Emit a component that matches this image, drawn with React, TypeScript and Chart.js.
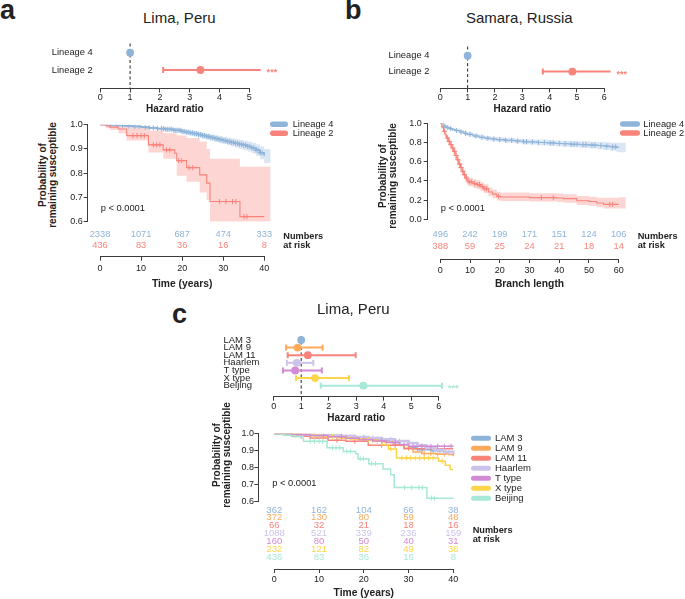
import React, { useEffect, useRef } from 'react';
import { Chart, registerables } from 'chart.js';

Chart.register(...registerables);

const FONT = '"Liberation Sans", Arial, Helvetica, sans-serif';
Chart.defaults.font.family = FONT;
Chart.defaults.color = '#222';

const INK = '#222222';
const AXIS = '#3c3c3c';

// ---------------- colours
const C_L4 = '#8FB4DA';
const C_L2 = '#F8837A';
const C_LAM3 = '#8FB4DA';
const C_LAM9 = '#FDAA5C';
const C_LAM11 = '#F8837A';
const C_HAAR = '#CDC3EA';
const C_TTYPE = '#D38AD5';
const C_XTYPE = '#FCD54A';
const C_BEIJ = '#A8E8D6';

// ---------------- Panel a : hazard ratios (Lima, Peru)
const hrA_labels = ['Lineage 4', 'Lineage 2'];
const hrA_est = [1, 3.36];
const hrA_low: (number | null)[] = [null, 2.11];
const hrA_high: (number | null)[] = [null, 5.38];
const hrA_sig = ['', '***'];

// ---------------- Panel a : Kaplan-Meier
const kmA_L4_t = [0, 2, 4, 6, 8, 10, 12, 14, 16, 18, 20, 21, 22, 23, 24, 25, 26, 27, 28, 29, 30, 31, 32, 33, 34, 35, 36, 37, 38, 39, 40];
const kmA_L4_s = [1.0, 0.998, 0.997, 0.995, 0.993, 0.99, 0.987, 0.984, 0.981, 0.977, 0.972, 0.969, 0.966, 0.963, 0.959, 0.955, 0.951, 0.947, 0.943, 0.939, 0.935, 0.931, 0.927, 0.923, 0.919, 0.915, 0.91, 0.904, 0.895, 0.884, 0.872];
const kmA_L4_bandT = [0, 2, 4, 6, 8, 10, 12, 14, 16, 18, 20, 21, 22, 23, 24, 25, 26, 27, 28, 29, 30, 31, 32, 33, 34, 35, 36, 37, 38, 39, 40, 41.6];
const kmA_L4_lo = [1.0, 0.996, 0.994, 0.991, 0.988, 0.985, 0.981, 0.977, 0.973, 0.968, 0.962, 0.958, 0.955, 0.951, 0.947, 0.942, 0.938, 0.933, 0.929, 0.924, 0.92, 0.915, 0.91, 0.905, 0.9, 0.895, 0.889, 0.882, 0.872, 0.858, 0.842, 0.842];
const kmA_L4_hi = [1.0, 0.999, 0.999, 0.998, 0.997, 0.995, 0.992, 0.99, 0.988, 0.985, 0.981, 0.979, 0.976, 0.974, 0.97, 0.967, 0.963, 0.96, 0.956, 0.953, 0.949, 0.946, 0.943, 0.94, 0.937, 0.934, 0.93, 0.925, 0.918, 0.91, 0.9, 0.9];
const kmA_L4_cens = [2.5, 4, 5.5, 7, 8.5, 9.5, 11, 12, 13, 14, 15, 15.5, 16, 16.5, 17, 17.5, 18, 18.5, 19, 19.5, 20, 20.5, 21, 21.5, 22, 22.5, 23, 23.5, 24, 24.5, 25, 25.5, 26, 26.5, 27, 27.5, 28, 28.5, 29, 29.5, 30, 30.5, 31, 31.5, 32, 32.5, 33, 33.5, 34, 34.5, 35, 35.5, 36, 36.5, 37, 37.5, 38, 38.5, 39, 39.5];

const kmA_L2_t = [0, 1.5, 2.4, 4.5, 6.5, 11.8, 15.4, 18.2, 18.7, 21.1, 24.3, 26.0, 26.8, 34.1, 40];
const kmA_L2_s = [1.0, 0.995, 0.99, 0.982, 0.955, 0.917, 0.896, 0.882, 0.852, 0.823, 0.793, 0.759, 0.683, 0.621, 0.621];
const kmA_L2_bandT = [0, 1.5, 2.4, 4.5, 6.5, 11.8, 15.4, 18.7, 21.1, 24.3, 26.0, 26.8, 34.1, 41.6];
const kmA_L2_lo = [1.0, 0.985, 0.978, 0.965, 0.935, 0.885, 0.86, 0.79, 0.765, 0.72, 0.69, 0.6, 0.6, 0.6];
const kmA_L2_hi = [1.0, 1.0, 1.0, 1.0, 0.995, 0.975, 0.965, 0.955, 0.945, 0.93, 0.9, 0.86, 0.827, 0.827];
const kmA_L2_cens = [8, 9, 10, 10.8, 13, 13.8, 14.6, 16.2, 17, 19.2, 19.9, 21.7, 22.6, 29.1, 30.7, 32.3, 33.1, 35.1, 35.8];

// ---------------- Panel a : numbers at risk
const riskA_times = [0, 10, 20, 30, 40];
const riskA_L4 = [2338, 1071, 687, 474, 333];
const riskA_L2 = [436, 83, 36, 16, 8];

// ---------------- Panel b : hazard ratios (Samara, Russia)
const hrB_labels = ['Lineage 4', 'Lineage 2'];
const hrB_est = [1, 4.83];
const hrB_low: (number | null)[] = [null, 3.75];
const hrB_high: (number | null)[] = [null, 6.23];
const hrB_sig = ['', '***'];

// ---------------- Panel b : Kaplan-Meier (branch length)
const kmB_L4_t = [0, 1, 2, 3, 4, 5, 6.6, 8, 9, 11, 13, 15, 17, 19, 22, 25, 28, 30, 33, 36, 39, 41, 44, 47, 50, 53, 55, 57, 59.3, 60];
const kmB_L4_s = [1.0, 0.97, 0.955, 0.945, 0.935, 0.925, 0.91, 0.895, 0.885, 0.868, 0.855, 0.845, 0.837, 0.83, 0.822, 0.815, 0.808, 0.805, 0.8, 0.795, 0.79, 0.787, 0.782, 0.778, 0.773, 0.768, 0.762, 0.755, 0.748, 0.748];
const kmB_L4_bandT = [0, 1, 2, 3, 4, 5, 6.6, 8, 9, 11, 13, 15, 17, 19, 22, 25, 28, 30, 33, 36, 39, 41, 44, 47, 50, 53, 55, 57, 59.3, 60, 62.4];
const kmB_L4_lo = [1.0, 0.958, 0.94, 0.929, 0.918, 0.907, 0.891, 0.875, 0.864, 0.846, 0.832, 0.822, 0.813, 0.806, 0.797, 0.79, 0.782, 0.778, 0.772, 0.766, 0.76, 0.756, 0.75, 0.744, 0.737, 0.73, 0.722, 0.713, 0.702, 0.698, 0.698];
const kmB_L4_hi = [1.0, 0.982, 0.97, 0.961, 0.952, 0.943, 0.929, 0.915, 0.906, 0.89, 0.878, 0.868, 0.861, 0.854, 0.847, 0.84, 0.834, 0.832, 0.828, 0.824, 0.82, 0.818, 0.814, 0.812, 0.809, 0.806, 0.802, 0.797, 0.794, 0.798, 0.798];
const kmB_L4_cens = [1.5, 2.5, 3.5, 5.5, 7, 8.5, 10, 12, 14, 16, 18, 20, 22, 24, 26, 28, 29, 31, 33, 35, 37, 38, 40, 42, 44, 45, 46, 48, 49, 51, 52, 54, 56, 58, 59];

const kmB_L2_t = [0, 0.5, 1.1, 1.6, 2.1, 2.7, 3.3, 3.9, 4.4, 5.0, 5.6, 6.2, 6.8, 7.3, 7.9, 8.4, 9.0, 9.5, 11, 12.3, 13.5, 14.6, 16.2, 17.5, 19, 20.2, 30, 39.2, 41.4, 45.9, 50, 52.6, 54.9, 60];
const kmB_L2_s = [1.0, 0.96, 0.917, 0.88, 0.847, 0.81, 0.778, 0.742, 0.708, 0.665, 0.62, 0.575, 0.54, 0.5, 0.465, 0.43, 0.405, 0.389, 0.372, 0.361, 0.34, 0.319, 0.284, 0.262, 0.24, 0.232, 0.226, 0.222, 0.215, 0.194, 0.185, 0.17, 0.155, 0.155];
const kmB_L2_bandT = [0, 0.5, 1.1, 1.6, 2.1, 2.7, 3.3, 3.9, 4.4, 5.0, 5.6, 6.2, 6.8, 7.3, 7.9, 8.4, 9.0, 9.5, 11, 12.3, 13.5, 14.6, 16.2, 17.5, 19, 20.2, 30, 39.2, 41.4, 45.9, 50, 52.6, 54.9, 60, 62.4];
const kmB_L2_lo = [1.0, 0.94, 0.89, 0.85, 0.812, 0.772, 0.738, 0.7, 0.664, 0.62, 0.575, 0.53, 0.494, 0.455, 0.42, 0.386, 0.36, 0.344, 0.327, 0.316, 0.295, 0.275, 0.24, 0.218, 0.197, 0.19, 0.186, 0.18, 0.172, 0.15, 0.14, 0.125, 0.113, 0.113, 0.113];
const kmB_L2_hi = [1.0, 0.978, 0.943, 0.91, 0.88, 0.847, 0.818, 0.784, 0.752, 0.71, 0.665, 0.62, 0.586, 0.545, 0.51, 0.474, 0.45, 0.434, 0.417, 0.406, 0.385, 0.365, 0.33, 0.308, 0.286, 0.278, 0.272, 0.27, 0.262, 0.242, 0.235, 0.225, 0.225, 0.23, 0.23];
const kmB_L2_cens = [1.4, 2.4, 3.0, 3.6, 4.2, 4.8, 5.3, 5.9, 6.5, 7.0, 7.6, 8.1, 8.8, 9.7, 10.4, 11.6, 12.6, 13.2, 14.1, 15.0, 15.6, 19.6, 34, 38, 57, 58];

const riskB_times = [0, 10, 20, 30, 40, 50, 60];
const riskB_L4 = [496, 242, 199, 171, 151, 124, 106];
const riskB_L2 = [388, 59, 25, 24, 21, 18, 14];

// ---------------- Panel c : hazard ratios by sublineage (Lima, Peru)
const hrC_labels = ['LAM 3', 'LAM 9', 'LAM 11', 'Haarlem', 'T type', 'X type', 'Beijing'];
const hrC_est = [1, 0.87, 1.24, 0.84, 0.78, 1.5, 3.26];
const hrC_low: (number | null)[] = [null, 0.45, 0.51, 0.48, 0.34, 0.81, 1.71];
const hrC_high: (number | null)[] = [null, 1.78, 2.98, 1.44, 1.75, 2.74, 6.12];
const hrC_sig = ['', '', '', '', '', '', '***'];
const hrC_colors = [C_LAM3, C_LAM9, C_LAM11, C_HAAR, C_TTYPE, C_XTYPE, C_BEIJ];

// ---------------- Panel c : Kaplan-Meier by sublineage
const kmC_LAM3_t = [0, 3, 6, 9, 12, 15, 18, 21, 24, 26, 28, 30, 32, 35, 38, 40];
const kmC_LAM3_s = [1.0, 0.998, 0.995, 0.99, 0.985, 0.98, 0.975, 0.968, 0.958, 0.948, 0.935, 0.918, 0.905, 0.9, 0.893, 0.885];
const kmC_LAM3_cens = [5, 9, 13, 17, 20, 23, 26.5, 29, 31.5, 33, 35.5, 37];
const kmC_LAM9_t = [0, 3, 6, 9, 12, 15, 18, 21, 24, 27, 29, 31, 33, 36, 39, 40];
const kmC_LAM9_s = [1.0, 0.997, 0.993, 0.988, 0.982, 0.976, 0.97, 0.963, 0.952, 0.935, 0.915, 0.893, 0.883, 0.88, 0.878, 0.868];
const kmC_LAM9_cens = [4, 8, 12, 16, 19, 22, 25, 30, 33.5, 35, 36.5, 38];
const kmC_LAM11_t = [0, 4, 8, 12, 16, 21, 29, 40];
const kmC_LAM11_s = [1.0, 0.985, 0.975, 0.962, 0.955, 0.932, 0.912, 0.912];
const kmC_LAM11_cens = [6, 14, 18, 24, 27, 32];
const kmC_HAAR_t = [0, 3, 6, 9, 12, 15, 18, 21, 24, 27, 30, 32, 34, 36, 38, 40];
const kmC_HAAR_s = [1.0, 0.998, 0.996, 0.993, 0.99, 0.986, 0.981, 0.975, 0.967, 0.957, 0.945, 0.932, 0.918, 0.905, 0.893, 0.882];
const kmC_HAAR_cens = [2, 4, 6, 8, 10, 12, 14, 16, 18, 20, 22, 24, 26, 28, 30, 32, 34, 36, 38, 39];
const kmC_TTYPE_t = [0, 4, 8, 12, 16, 19, 22, 25, 28, 30, 40];
const kmC_TTYPE_s = [1.0, 0.996, 0.99, 0.982, 0.973, 0.965, 0.957, 0.948, 0.937, 0.926, 0.926];
const kmC_TTYPE_cens = [7, 11, 15, 20, 24, 27, 31, 33, 35, 36.5, 38, 39.5];
const kmC_XTYPE_t = [0, 4, 8, 11, 14, 17, 20, 22, 24, 25.5, 27.3, 36.7, 38.2, 39.3, 40];
const kmC_XTYPE_s = [1.0, 0.997, 0.99, 0.983, 0.976, 0.969, 0.962, 0.955, 0.935, 0.91, 0.857, 0.838, 0.815, 0.79, 0.79];
const kmC_XTYPE_cens = [5, 9, 13, 16, 19, 21, 23, 26, 28.5, 29.5, 30.5, 31.5, 32.5, 33.5, 34.5, 35.5, 37.5];
const kmC_BEIJ_t = kmA_L2_t;
const kmC_BEIJ_s = kmA_L2_s;
const kmC_BEIJ_cens = kmA_L2_cens;

const riskC_times = [0, 10, 20, 30, 40];
const riskC_LAM3 = [362, 162, 104, 66, 38];
const riskC_LAM9 = [372, 130, 80, 59, 48];
const riskC_LAM11 = [66, 32, 21, 18, 16];
const riskC_HAAR = [1088, 521, 339, 236, 159];
const riskC_TTYPE = [160, 80, 50, 40, 31];
const riskC_XTYPE = [232, 121, 82, 49, 36];
const riskC_BEIJ = [436, 83, 36, 16, 8];

// =====================================================================
function hexAlpha(hex: string, a: number) {
  const n = parseInt(hex.slice(1), 16);
  return `rgba(${(n >> 16) & 255},${(n >> 8) & 255},${n & 255},${a})`;
}
function stepAt(t: number[], s: number[], x: number) {
  let v = s[0];
  for (let i = 0; i < t.length; i++) if (t[i] <= x) v = s[i];
  return v;
}
const font = (size: number, bold = false) => `${bold ? 'bold ' : ''}${size}px ${FONT}`;

const baseOptions = {
  animation: false,
  responsive: false,
  devicePixelRatio: 1,
  events: [] as any[],
};

// ---------------- forest plot config
function forestConfig(o: any) {
  const datasets: any[] = [];
  // lower "order" is drawn on top
  datasets.push({
    type: 'scatter', order: 3, showLine: true,
    data: [{ x: 1, y: o.yMin }, { x: 1, y: o.yMax }],
    borderColor: INK, borderWidth: 1, borderDash: [3, 2.5], pointRadius: 0, clip: false,
  });
  o.labels.forEach((_: string, i: number) => {
    if (o.low[i] != null) {
      datasets.push({
        type: 'scatter', order: 2, showLine: true,
        data: [{ x: o.low[i], y: i }, { x: o.high[i], y: i }],
        borderColor: o.colors[i], borderWidth: 2,
        pointStyle: 'line', rotation: 90, pointRadius: 3, pointBorderWidth: 2,
        pointBorderColor: o.colors[i], pointBackgroundColor: o.colors[i], clip: false,
      });
    }
  });
  datasets.push({
    type: 'scatter', order: 1,
    data: o.est.map((v: number, i: number) => ({ x: v, y: i })),
    pointRadius: 3.9, pointBackgroundColor: o.colors, pointBorderColor: o.colors, pointBorderWidth: 0, clip: false,
  });
  const starPlugin = {
    id: 'stars',
    afterDatasetsDraw(chart: any) {
      const { ctx } = chart;
      const xs = chart.scales.x, ys = chart.scales.y;
      ctx.save();
      ctx.font = font(9, true);
      ctx.textAlign = 'left';
      ctx.textBaseline = 'middle';
      o.sig.forEach((s: string, i: number) => {
        if (!s) return;
        ctx.fillStyle = o.colors[i];
        ctx.fillText(s, xs.getPixelForValue(o.high[i]) + 6, ys.getPixelForValue(i) + 2.5);
      });
      ctx.restore();
    },
  };
  return {
    type: 'scatter',
    data: { datasets },
    options: {
      ...baseOptions,
      layout: { padding: o.padding },
      plugins: { legend: { display: false }, tooltip: { enabled: false } },
      scales: {
        x: {
          type: 'linear', min: 0, max: o.xMax,
          ticks: { stepSize: 1, font: { size: 9 }, padding: o.tickPad, color: INK },
          grid: { display: true, drawOnChartArea: false, drawTicks: true, tickLength: 4, color: AXIS },
          border: { display: true, color: AXIS, width: 1 },
          title: { display: true, text: 'Hazard ratio', font: { size: 10, weight: 'bold' }, padding: { top: 0, bottom: o.titlePadBottom }, color: INK },
          afterFit: (s: any) => { s.height = o.xHeight; },
        },
        y: {
          type: 'linear', reverse: true, min: o.yMin, max: o.yMax,
          afterBuildTicks: (s: any) => { s.ticks = o.labels.map((_: string, i: number) => ({ value: i })); },
          ticks: {
            autoSkip: false, font: { size: o.labelSize }, padding: o.labelPad, crossAlign: o.crossAlign, color: INK,
            callback: (v: number) => o.labels[Math.round(v)] ?? '',
          },
          grid: { display: false, drawTicks: false, tickLength: 0 },
          border: { display: false },
          afterFit: (s: any) => { s.width = o.yWidth; },
        },
      },
    },
    plugins: [starPlugin],
  };
}

// ---------------- Kaplan-Meier config
function kmConfig(o: any) {
  const datasets: any[] = [];
  o.series.forEach((se: any) => {
    if (!se.band) return;
    datasets.push({
      type: 'line', order: 100, data: se.band.t.map((t: number, i: number) => ({ x: t, y: se.band.lo[i] })),
      stepped: true, borderWidth: 0, borderColor: 'rgba(0,0,0,0)', pointRadius: 0, fill: false,
    });
    datasets.push({
      type: 'line', order: 100, data: se.band.t.map((t: number, i: number) => ({ x: t, y: se.band.hi[i] })),
      stepped: true, borderWidth: 0, borderColor: 'rgba(0,0,0,0)', pointRadius: 0, fill: '-1',
      backgroundColor: hexAlpha(se.color, 0.33),
    });
  });
  o.series.forEach((se: any, k: number) => {
    datasets.push({
      type: 'line', order: 50 - 2 * k, data: se.t.map((t: number, i: number) => ({ x: t, y: se.s[i] })),
      stepped: true, borderColor: se.color, borderWidth: se.width, pointRadius: 0, fill: false,
    });
    datasets.push({
      type: 'scatter', order: 49 - 2 * k, data: se.cens.map((c: number) => ({ x: c, y: stepAt(se.t, se.s, c) })),
      pointStyle: 'cross', pointRadius: 2.6, pointBorderWidth: 1, pointBorderColor: se.color, borderColor: se.color,
    });
  });
  const deco = {
    id: 'kmDeco',
    afterDraw(chart: any) {
      const { ctx } = chart;
      ctx.save();
      const L = o.legend;
      L.labels.forEach((lab: string, i: number) => {
        const y = L.y0 + i * L.dy;
        ctx.fillStyle = L.colors[i];
        ctx.beginPath();
        ctx.roundRect(L.x, y - L.h / 2, L.w, L.h, L.h / 2);
        ctx.fill();
        ctx.fillStyle = INK;
        ctx.font = font(L.size);
        ctx.textAlign = 'left';
        ctx.textBaseline = 'middle';
        ctx.fillText(lab, L.textX, y + 0.5);
      });
      ctx.fillStyle = INK;
      ctx.font = font(9.3);
      ctx.textAlign = 'left';
      ctx.textBaseline = 'middle';
      ctx.fillText('p < 0.0001', o.pval.x, o.pval.y);
      ctx.restore();
    },
  };
  return {
    type: 'line',
    data: { datasets },
    options: {
      ...baseOptions,
      layout: { padding: o.padding },
      plugins: { legend: { display: false }, tooltip: { enabled: false } },
      scales: {
        x: { type: 'linear', display: false, min: o.xMin, max: o.xMax },
        y: {
          type: 'linear', min: o.yMin, max: o.yMax,
          ticks: { stepSize: o.yStep, font: { size: 9 }, padding: o.tickPad, color: INK, callback: (v: number) => Number(v).toFixed(1) },
          grid: { display: true, drawOnChartArea: false, drawTicks: true, tickLength: 4, color: AXIS },
          border: { display: true, color: AXIS, width: 1 },
          afterFit: (s: any) => { s.width = o.yWidth; },
        },
      },
    },
    plugins: [deco],
  };
}

// ---------------- numbers-at-risk table + time axis
function riskConfig(o: any) {
  const datasets = o.rows.map((r: any, i: number) => ({
    type: 'scatter', data: o.times.map((t: number) => ({ x: t, y: i })), pointRadius: 0,
  }));
  const labels = {
    id: 'riskLabels',
    afterDatasetsDraw(chart: any) {
      const { ctx } = chart;
      ctx.save();
      ctx.textAlign = 'center';
      ctx.textBaseline = 'middle';
      ctx.font = font(o.size);
      o.rows.forEach((r: any, i: number) => {
        const meta = chart.getDatasetMeta(i);
        ctx.fillStyle = r.color;
        meta.data.forEach((pt: any, j: number) => ctx.fillText(String(r.values[j]), pt.x, pt.y));
      });
      ctx.fillStyle = INK;
      ctx.font = font(9.2, true);
      ctx.textAlign = 'left';
      ctx.fillText('Numbers', o.nar.x, o.nar.y1);
      ctx.fillText('at risk', o.nar.x, o.nar.y2);
      ctx.restore();
    },
  };
  return {
    type: 'scatter',
    data: { datasets },
    options: {
      ...baseOptions,
      layout: { padding: o.padding },
      plugins: { legend: { display: false }, tooltip: { enabled: false } },
      scales: {
        x: {
          type: 'linear', min: 0, max: o.xMax,
          ticks: { stepSize: o.xStep, font: { size: 9 }, padding: o.tickPad, color: INK },
          grid: { display: true, drawOnChartArea: false, drawTicks: true, tickLength: 4, color: AXIS },
          border: { display: true, color: AXIS, width: 1 },
          title: { display: true, text: o.title, font: { size: 10.3, weight: 'bold' }, padding: { top: 0, bottom: o.titlePadBottom }, color: INK },
          afterFit: (s: any) => { s.height = o.xHeight; },
        },
        y: { type: 'linear', display: false, reverse: true, min: o.yMin, max: o.yMax },
      },
    },
    plugins: [labels],
  };
}

// =====================================================================
function ChartBox({ left, top, width, height, make }: any) {
  const ref = useRef<HTMLCanvasElement>(null);
  useEffect(() => {
    const chart = new Chart(ref.current as HTMLCanvasElement, make() as any);
    return () => chart.destroy();
  }, []);
  return (
    <canvas ref={ref} width={width} height={height}
      style={{ position: 'absolute', left, top, width, height }} />
  );
}

function Txt({ x, y, size, bold, center, children }: any) {
  const style: any = {
    position: 'absolute', top: y - 0.8465 * size, left: x,
    fontFamily: FONT, fontSize: size, lineHeight: `${size}px`,
    fontWeight: bold ? 700 : 400, color: INK, whiteSpace: 'nowrap',
  };
  if (center) style.transform = 'translateX(-50%)';
  return <div style={style}>{children}</div>;
}

function YTitle({ cx, cy }: any) {
  return (
    <div style={{
      position: 'absolute', left: cx, top: cy, transform: 'translate(-50%,-50%) rotate(-90deg)',
      fontFamily: FONT, fontSize: 10, fontWeight: 700, lineHeight: '10px', textAlign: 'center',
      whiteSpace: 'nowrap', color: INK,
    }}>
      Probability of<br />remaining susceptible
    </div>
  );
}

export default function App() {
  return (
    <div style={{ position: 'absolute', left: 0, top: 0, width: 685, height: 599, background: '#fff', overflow: 'hidden' }}>
      {/* ---------- panel a */}
      <Txt x={0} y={20} size={27} bold>a</Txt>
      <Txt x={179.3} y={22.4} size={15} center>Lima, Peru</Txt>
      <ChartBox left={0} top={30} width={300} height={86} make={() => forestConfig({
        labels: hrA_labels, est: hrA_est, low: hrA_low, high: hrA_high, sig: hrA_sig, colors: [C_L4, C_L2],
        xMax: 5, yMin: -0.53, yMax: 2.07, yWidth: 100, xHeight: 27.5,
        padding: { left: 0.3, right: 50.7, top: 13.5, bottom: 0 },
        labelPad: 7.6, crossAlign: 'near', labelSize: 9.3, tickPad: 0, titlePadBottom: 0.5,
      })} />
      <YTitle cx={48} cy={175} />
      <ChartBox left={0} top={110} width={340} height={120} make={() => kmConfig({
        series: [
          { t: kmA_L4_t, s: kmA_L4_s, color: C_L4, width: 1.6, cens: kmA_L4_cens, band: { t: kmA_L4_bandT, lo: kmA_L4_lo, hi: kmA_L4_hi } },
          { t: kmA_L2_t, s: kmA_L2_s, color: C_L2, width: 1.1, cens: kmA_L2_cens, band: { t: kmA_L2_bandT, lo: kmA_L2_lo, hi: kmA_L2_hi } },
        ],
        xMin: -3, xMax: 41.6, yMin: 0.6, yMax: 1.0, yStep: 0.1, yWidth: 87.7, tickPad: 1,
        padding: { left: 0, right: 69.3, top: 14.7, bottom: 8.3 },
        legend: { labels: ['Lineage 4', 'Lineage 2'], colors: [C_L4, C_L2], x: 270, w: 18, h: 5.5, y0: 14.3, dy: 9, textX: 292.7, size: 9.3 },
        pval: { x: 100.7, y: 98.8 },
      })} />
      <ChartBox left={0} top={226} width={340} height={70} make={() => riskConfig({
        rows: [{ values: riskA_L4, color: C_L4 }, { values: riskA_L2, color: C_L2 }],
        times: riskA_times, xMax: 40, xStep: 10, yMin: -0.53, yMax: 1.99, size: 9.3,
        padding: { left: 100, right: 75.7, top: 2, bottom: 0 }, xHeight: 39.3, tickPad: 2.2,
        title: 'Time (years)', titlePadBottom: 5.8, nar: { x: 283.3, y1: 10, y2: 19 },
      })} />

      {/* ---------- panel b */}
      <Txt x={345} y={20} size={27} bold>b</Txt>
      <Txt x={519.3} y={22.4} size={15} center>Samara, Russia</Txt>
      <ChartBox left={340} top={30} width={345} height={86} make={() => forestConfig({
        labels: hrB_labels, est: hrB_est, low: hrB_low, high: hrB_high, sig: hrB_sig, colors: [C_L4, C_L2],
        xMax: 6, yMin: -0.58, yMax: 2.06, yWidth: 100, xHeight: 27.7,
        padding: { left: 0.3, right: 80.7, top: 12.7, bottom: 0 },
        labelPad: 11, crossAlign: 'near', labelSize: 9.3, tickPad: 0, titlePadBottom: 0.5,
      })} />
      <YTitle cx={388.3} cy={176} />
      <ChartBox left={340} top={110} width={345} height={120} make={() => kmConfig({
        series: [
          { t: kmB_L4_t, s: kmB_L4_s, color: C_L4, width: 1.1, cens: kmB_L4_cens, band: { t: kmB_L4_bandT, lo: kmB_L4_lo, hi: kmB_L4_hi } },
          { t: kmB_L2_t, s: kmB_L2_s, color: C_L2, width: 1.1, cens: kmB_L2_cens, band: { t: kmB_L2_bandT, lo: kmB_L2_lo, hi: kmB_L2_hi } },
        ],
        xMin: -4.24, xMax: 62.46, yMin: 0, yMax: 1.0, yStep: 0.2, yWidth: 87.7, tickPad: 2,
        padding: { left: 0, right: 59, top: 13.3, bottom: 10.7 },
        legend: { labels: ['Lineage 4', 'Lineage 2'], colors: [C_L4, C_L2], x: 280, w: 20, h: 5.5, y0: 14, dy: 9, textX: 303.3, size: 9.3 },
        pval: { x: 100.7, y: 98.5 },
      })} />
      <ChartBox left={340} top={226} width={345} height={70} make={() => riskConfig({
        rows: [{ values: riskB_L4, color: C_L4 }, { values: riskB_L2, color: C_L2 }],
        times: riskB_times, xMax: 60, xStep: 10, yMin: -0.5, yMax: 2.083, size: 9.3,
        padding: { left: 100.3, right: 66.3, top: 2, bottom: 0 }, xHeight: 37, tickPad: 2.3,
        title: 'Branch length', titlePadBottom: 5.8, nar: { x: 297.7, y1: 10.7, y2: 19 },
      })} />

      {/* ---------- panel c */}
      <Txt x={172} y={323.5} size={27} bold>c</Txt>
      <Txt x={353.3} y={314} size={15} center>Lima, Peru</Txt>
      <ChartBox left={180} top={325} width={300} height={99} make={() => forestConfig({
        labels: hrC_labels, est: hrC_est, low: hrC_low, high: hrC_high, sig: hrC_sig, colors: hrC_colors,
        xMax: 6, yMin: -0.52, yMax: 7.44, yWidth: 50.2, xHeight: 27.3,
        padding: { left: 43.5, right: 41.3, top: 11, bottom: 0 },
        labelPad: 4, crossAlign: 'far', labelSize: 9.5, tickPad: 0, titlePadBottom: 0,
      })} />
      <YTitle cx={222.3} cy={455} />
      <ChartBox left={180} top={420} width={400} height={90} make={() => kmConfig({
        series: [
          { t: kmC_LAM3_t, s: kmC_LAM3_s, color: C_LAM3, width: 1.5, cens: kmC_LAM3_cens },
          { t: kmC_LAM9_t, s: kmC_LAM9_s, color: C_LAM9, width: 1.5, cens: kmC_LAM9_cens },
          { t: kmC_LAM11_t, s: kmC_LAM11_s, color: C_LAM11, width: 1.5, cens: kmC_LAM11_cens },
          { t: kmC_HAAR_t, s: kmC_HAAR_s, color: C_HAAR, width: 2.6, cens: kmC_HAAR_cens },
          { t: kmC_XTYPE_t, s: kmC_XTYPE_s, color: C_XTYPE, width: 1.5, cens: kmC_XTYPE_cens },
          { t: kmC_TTYPE_t, s: kmC_TTYPE_s, color: C_TTYPE, width: 1.5, cens: kmC_TTYPE_cens },
          { t: kmC_BEIJ_t, s: kmC_BEIJ_s, color: C_BEIJ, width: 1.5, cens: kmC_BEIJ_cens },
        ],
        xMin: -3.575, xMax: 40.6, yMin: 0.6, yMax: 1.0, yStep: 0.1, yWidth: 78.3, tickPad: 0.3,
        padding: { left: 0, right: 124, top: 13.7, bottom: 8.3 },
        legend: { labels: hrC_labels, colors: hrC_colors, x: 291, w: 20, h: 5, y0: 18.3, dy: 10, textX: 315, size: 9.5 },
        pval: { x: 92.3, y: 63.5 },
      })} />
      <ChartBox left={180} top={503} width={400} height={96} make={() => riskConfig({
        rows: [
          { values: riskC_LAM3, color: C_LAM3 }, { values: riskC_LAM9, color: C_LAM9 },
          { values: riskC_LAM11, color: C_LAM11 }, { values: riskC_HAAR, color: C_HAAR },
          { values: riskC_TTYPE, color: C_TTYPE }, { values: riskC_XTYPE, color: C_XTYPE },
          { values: riskC_BEIJ, color: C_BEIJ },
        ],
        times: riskC_times, xMax: 40, xStep: 10, yMin: -0.638, yMax: 7.53, size: 9.5,
        padding: { left: 94.3, right: 126.7, top: 2, bottom: 0 }, xHeight: 30, tickPad: 0.9,
        title: 'Time (years)', titlePadBottom: 0.1, nar: { x: 292.7, y1: 27, y2: 36 },
      })} />
    </div>
  );
}
